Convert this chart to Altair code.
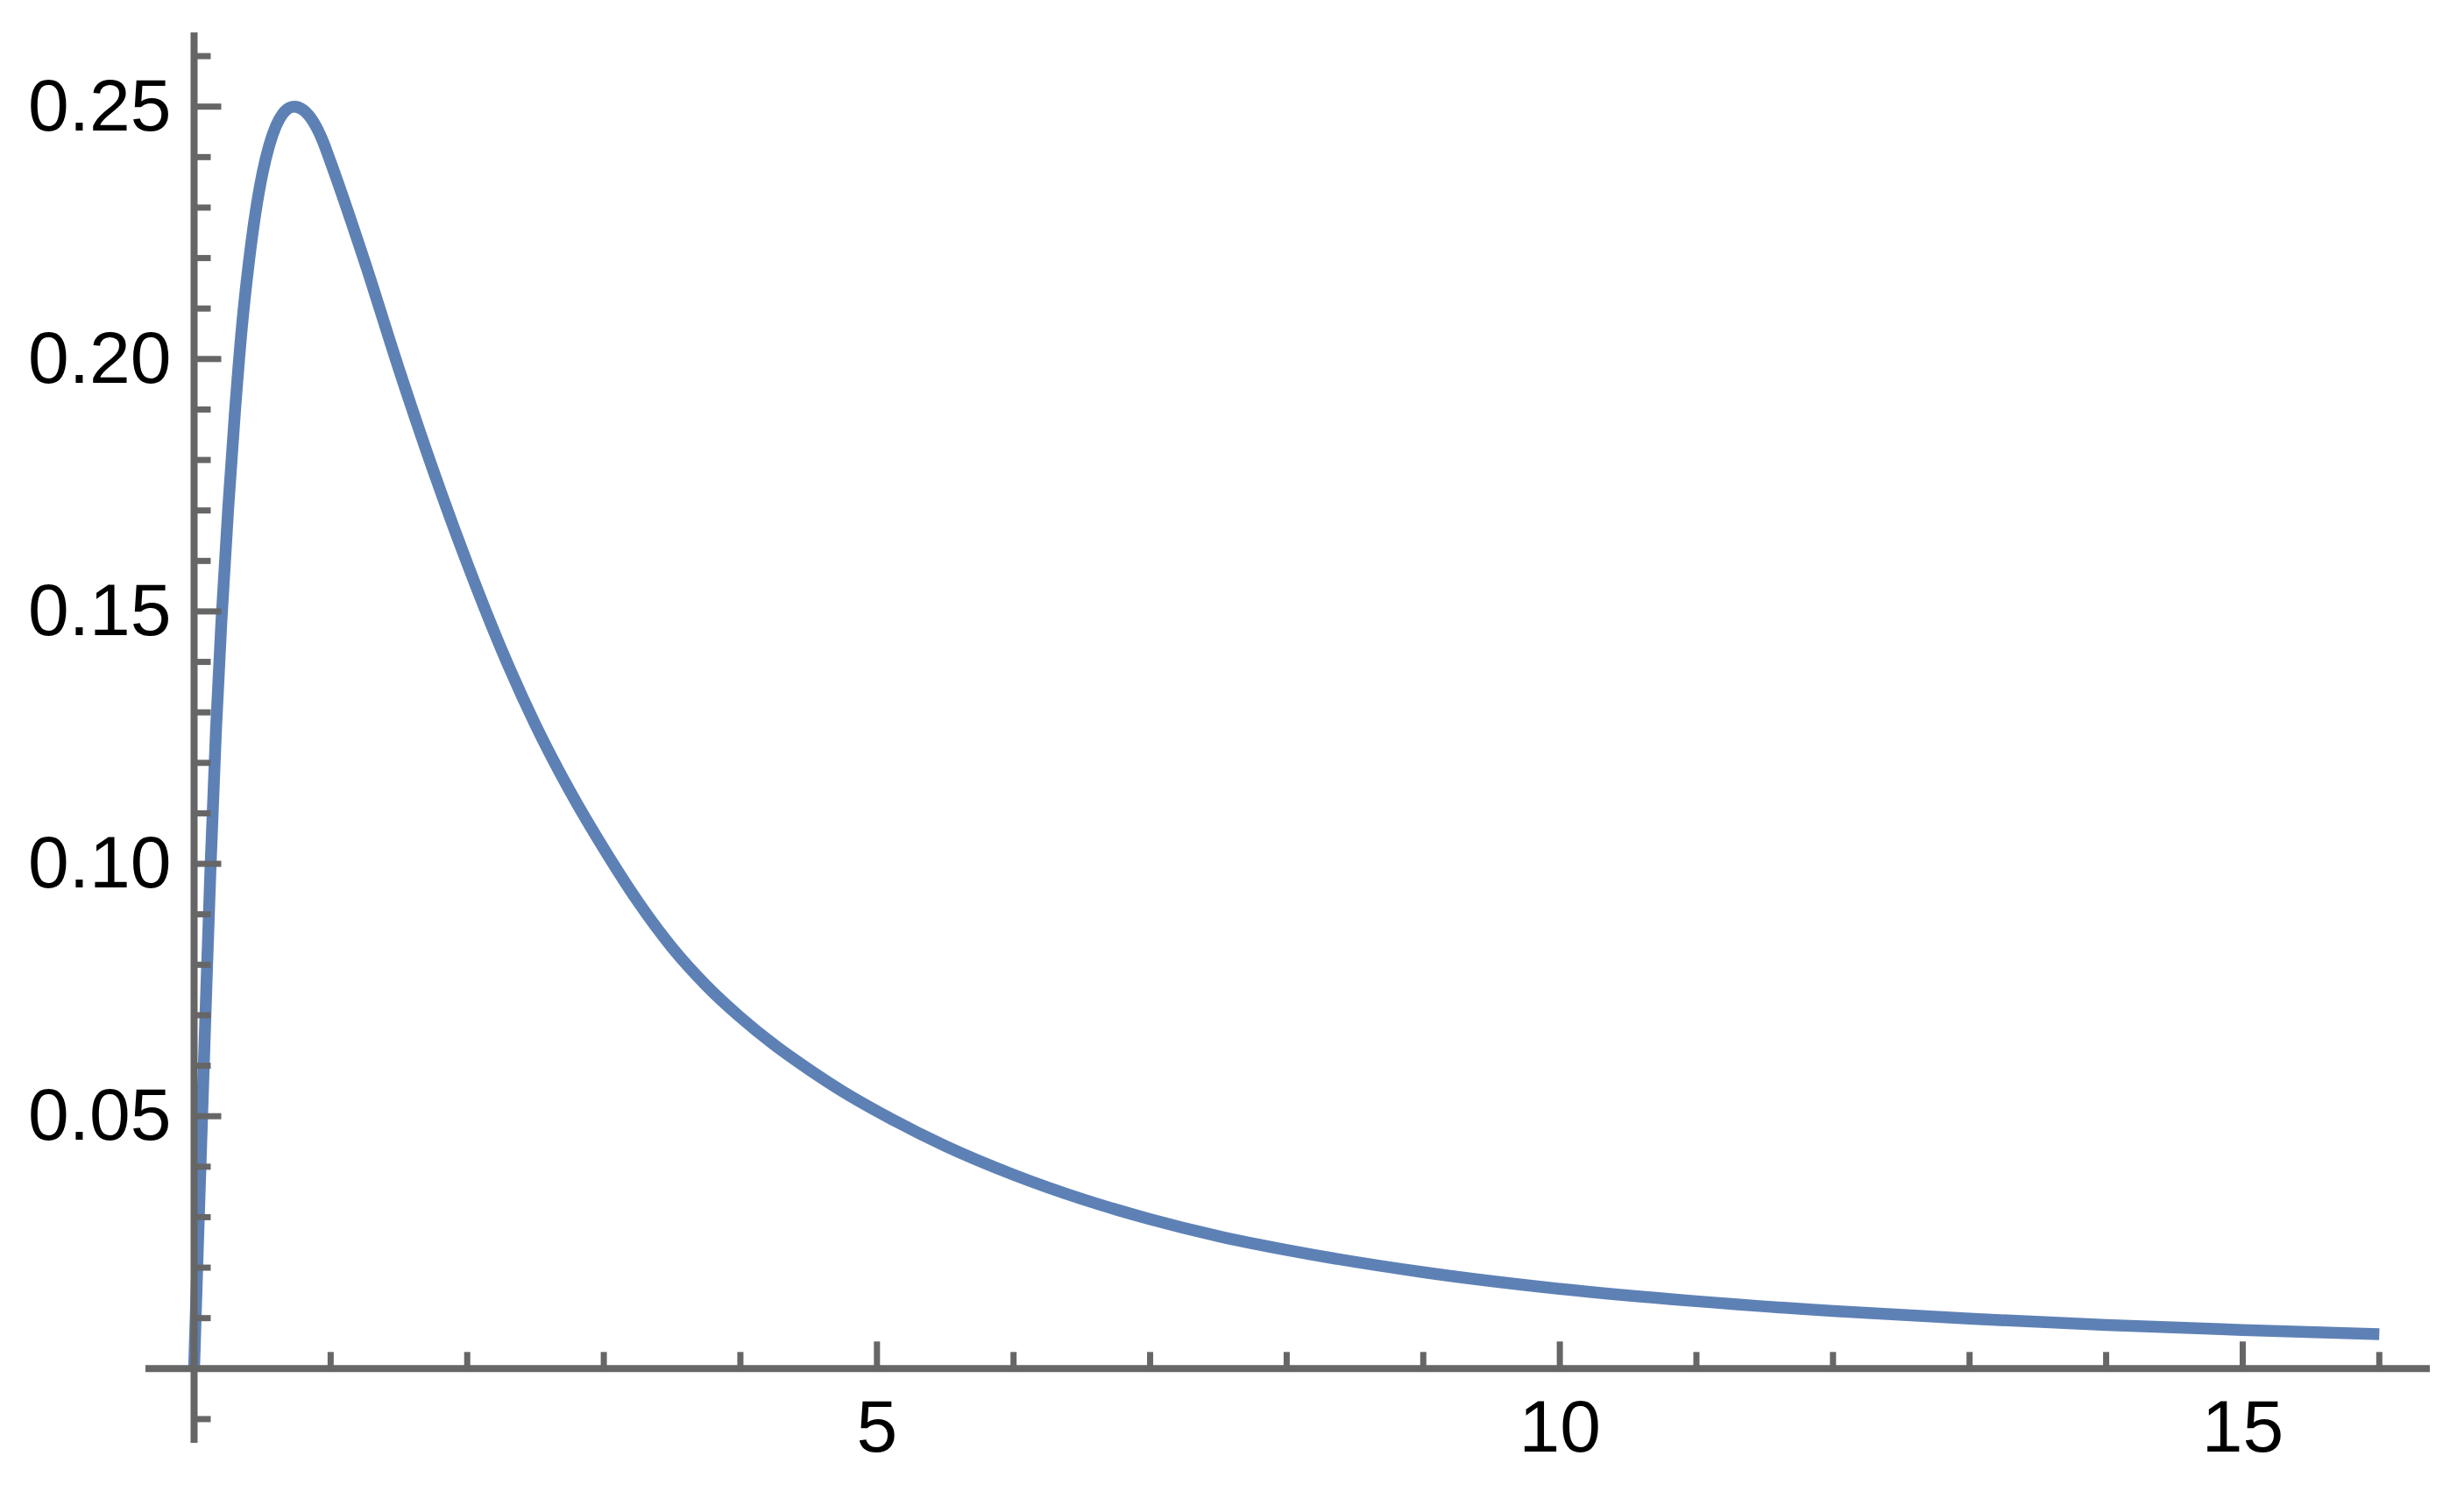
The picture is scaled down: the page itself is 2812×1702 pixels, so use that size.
import altair as alt
import pandas as pd

# curve values
curve_x = [0, 0.03, 0.06, 0.09, 0.12, 0.16, 0.20, 0.25, 0.30, 0.35, 0.40, 0.45, 0.50, 0.55,
           0.60, 0.65, 0.70, 0.734, 0.80, 0.875, 0.941, 1.0, 1.25, 1.5, 1.75, 2.0, 2.25,
           2.5, 2.75, 3.0, 3.25, 3.5, 3.75, 4.0, 4.25, 4.5, 4.75, 5.0, 5.5, 6.0, 6.5, 7.0,
           7.5, 8, 9, 10, 11, 12, 13, 14, 15, 16]
curve_y = [0, 0.026, 0.051, 0.0755, 0.0990, 0.1262, 0.1480, 0.1705, 0.1898, 0.2063, 0.2189,
           0.2290, 0.2367, 0.2423, 0.2462, 0.2486, 0.2498, 0.2500, 0.2493, 0.2469, 0.2433,
           0.2390, 0.2192, 0.1980, 0.1780, 0.1595, 0.1425, 0.1275, 0.1145, 0.1030, 0.0925,
           0.0834, 0.0759, 0.0696, 0.0641, 0.0593, 0.0549, 0.0510, 0.0441, 0.0384, 0.0336,
           0.0296, 0.02624, 0.0235, 0.0191, 0.0158, 0.01335, 0.01142, 0.00989, 0.00866,
           0.00765, 0.00681]

# ticks and labels
x_major = [5, 10, 15]
x_labels = ["5", "10", "15"]
x_minor = [1, 2, 3, 4, 6, 7, 8, 9, 11, 12, 13, 14, 16]
y_major = [0.05, 0.10, 0.15, 0.20, 0.25]
y_labels = ["0.05", "0.10", "0.15", "0.20", "0.25"]
y_minor = [-0.01, 0.01, 0.02, 0.03, 0.04, 0.06, 0.07, 0.08, 0.09, 0.11, 0.12, 0.13,
           0.14, 0.16, 0.17, 0.18, 0.19, 0.21, 0.22, 0.23, 0.24, 0.26]

W, H = 2607, 1610
AX = "#666666"
LINE = "#5E81B5"
FONT = "Liberation Sans"
FS = 84

xs = alt.Scale(domain=[-0.356, 16.37], nice=False, zero=False)
ys = alt.Scale(domain=[-0.0147, 0.2647], nice=False, zero=False)

curve = pd.DataFrame({"x": curve_x, "y": curve_y})
zero = pd.DataFrame({"z": [0]})
xmaj = pd.DataFrame({"t": x_major, "z": [0] * len(x_major), "label": x_labels})
xmin = pd.DataFrame({"t": x_minor, "z": [0] * len(x_minor)})
ymaj = pd.DataFrame({"t": y_major, "z": [0] * len(y_major), "label": y_labels})
ymin = pd.DataFrame({"t": y_minor, "z": [0] * len(y_minor)})

line = alt.Chart(curve).mark_line(color=LINE, strokeWidth=13.5, interpolate="monotone").encode(
    x=alt.X("x:Q", scale=xs, axis=None),
    y=alt.Y("y:Q", scale=ys, axis=None),
)

x_axis = alt.Chart(zero).mark_rule(color=AX, strokeWidth=8).encode(
    x=alt.value(0), x2=alt.value(W), y=alt.Y("z:Q", scale=ys, axis=None)
)
y_axis = alt.Chart(zero).mark_rule(color=AX, strokeWidth=8).encode(
    y=alt.value(0), y2=alt.value(H), x=alt.X("z:Q", scale=xs, axis=None)
)

x_major_ticks = alt.Chart(xmaj).mark_rule(color=AX, strokeWidth=7, y2Offset=-31).encode(
    x=alt.X("t:Q", scale=xs, axis=None), y=alt.Y("z:Q", scale=ys, axis=None), y2="z:Q"
)
x_minor_ticks = alt.Chart(xmin).mark_rule(color=AX, strokeWidth=7, y2Offset=-19).encode(
    x=alt.X("t:Q", scale=xs, axis=None), y=alt.Y("z:Q", scale=ys, axis=None), y2="z:Q"
)
y_major_ticks = alt.Chart(ymaj).mark_rule(color=AX, strokeWidth=7, x2Offset=31).encode(
    y=alt.Y("t:Q", scale=ys, axis=None), x=alt.X("z:Q", scale=xs, axis=None), x2="z:Q"
)
y_minor_ticks = alt.Chart(ymin).mark_rule(color=AX, strokeWidth=7, x2Offset=19).encode(
    y=alt.Y("t:Q", scale=ys, axis=None), x=alt.X("z:Q", scale=xs, axis=None), x2="z:Q"
)

x_text = alt.Chart(xmaj).mark_text(align="center", baseline="middle", dy=70, font=FONT,
                                   fontSize=FS, color="black").encode(
    x=alt.X("t:Q", scale=xs, axis=None), y=alt.Y("z:Q", scale=ys, axis=None), text="label:N"
)
y_text = alt.Chart(ymaj).mark_text(align="right", baseline="middle", dx=-26, dy=2, font=FONT,
                                   fontSize=FS, color="black").encode(
    y=alt.Y("t:Q", scale=ys, axis=None), x=alt.X("z:Q", scale=xs, axis=None), text="label:N"
)

chart = alt.layer(
    line, x_axis, y_axis, x_major_ticks, x_minor_ticks, y_major_ticks, y_minor_ticks,
    x_text, y_text
).properties(
    width=W, height=H,
    padding={"left": 158, "top": 29, "right": 30, "bottom": 40},
    autosize=alt.AutoSizeParams(type="none"),
    background="white",
).configure_view(stroke=None)

chart.save("out.html", embed_options={"renderer": "svg", "actions": False})
